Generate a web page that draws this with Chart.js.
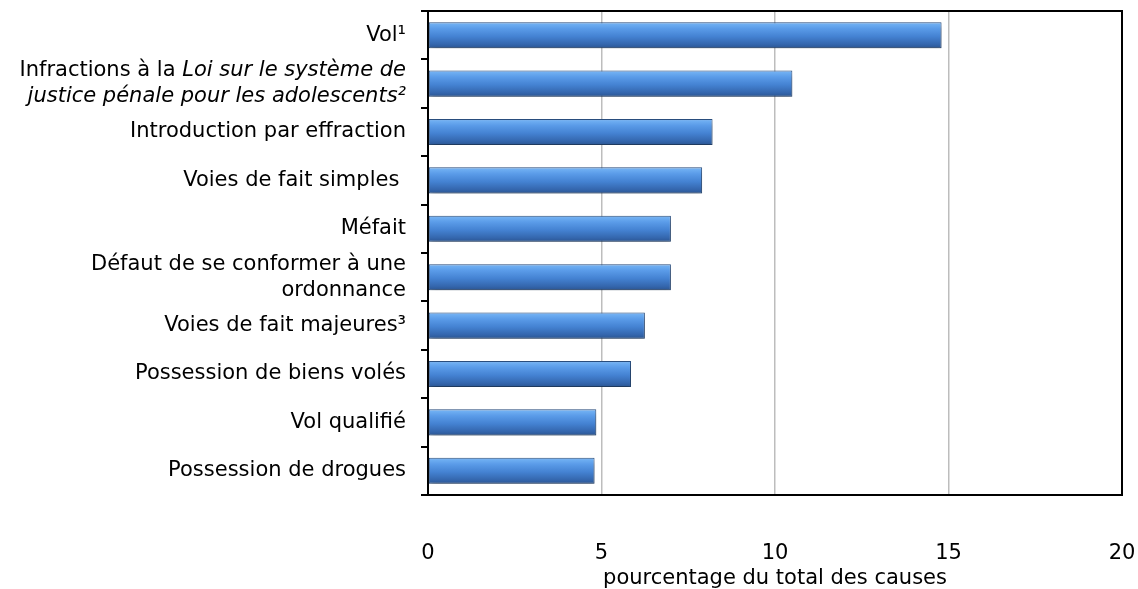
<!DOCTYPE html>
<html>
<head>
<meta charset="utf-8">
<script src="https://cdn.jsdelivr.net/npm/chart.js@4.4.1/dist/chart.umd.min.js"></script>
<style>
  html, body { margin: 0; padding: 0; background: #fff; overflow: hidden; }
</style>
</head>
<body>
<canvas id="chart" width="1138" height="589"></canvas>
<script>
// categories, top to bottom. '*' toggles italics (it carries over to the next line)
const categories = [
  'Vol¹',
  ['Infractions à la *Loi sur le système de', 'justice pénale pour les adolescents²*'],
  'Introduction par effraction',
  'Voies de fait simples ',
  'Méfait',
  ['Défaut de se conformer à une', 'ordonnance'],
  'Voies de fait majeures³',
  'Possession de biens volés',
  'Vol qualifié',
  'Possession de drogues'
];
const values = [14.8, 10.5, 8.2, 7.9, 7.0, 7.0, 6.25, 5.85, 4.85, 4.8];
const xTicks = [0, 5, 10, 15, 20];
const xTitle = 'pourcentage du total des causes';

const FONT = '"DejaVu Sans", Verdana, sans-serif';
const BAR_PCT = 0.54;

// plain labels (no markers) for the data / tooltips
const plainLabels = categories.map(c => Array.isArray(c) ? c.map(s => s.replace(/\*/g, '')) : c.replace(/\*/g, ''));

// bar fill: vertical gradient, light band near the top, dark bottom
function barFill(ctx) {
  const chart = ctx.chart;
  const y = chart.scales.y;
  if (!chart.chartArea || !y) return '#4584d3';
  const c = y.getPixelForValue(ctx.dataIndex);
  const half = (y.height / categories.length) * BAR_PCT / 2;
  const g = chart.ctx.createLinearGradient(0, c - half, 0, c + half);
  g.addColorStop(0, '#8fb8e6');
  g.addColorStop(0.08, '#6eaef2');
  g.addColorStop(0.25, '#5a9be8');
  g.addColorStop(0.55, '#4482d2');
  g.addColorStop(0.85, '#3466ad');
  g.addColorStop(1, '#2b5591');
  return g;
}

// soft shadow under the bars
const shadowPlugin = {
  id: 'barShadow',
  beforeDatasetsDraw(chart) {
    const ctx = chart.ctx;
    ctx.save();
    ctx.shadowColor = 'rgba(0,0,0,0.3)';
    ctx.shadowBlur = 6;
    ctx.shadowOffsetX = 1;
    ctx.shadowOffsetY = 4;
  },
  afterDatasetsDraw(chart) {
    chart.ctx.restore();
  }
};

// top and right frame lines
const framePlugin = {
  id: 'frame',
  afterDraw(chart) {
    const { ctx, chartArea: a } = chart;
    ctx.save();
    ctx.strokeStyle = '#000';
    ctx.lineWidth = 2;
    ctx.beginPath();
    ctx.moveTo(a.left - 6, a.top);
    ctx.lineTo(a.right, a.top);
    ctx.lineTo(a.right, a.bottom + 1);
    ctx.stroke();
    ctx.restore();
  }
};

// category labels with mixed roman / italic runs
const labelPlugin = {
  id: 'mixedLabels',
  afterDraw(chart) {
    const ctx = chart.ctx;
    const y = chart.scales.y;
    const xRight = y.right - 22;
    const lineH = 26;
    ctx.save();
    ctx.fillStyle = '#000';
    ctx.textBaseline = 'middle';
    ctx.textAlign = 'left';
    categories.forEach((cat, i) => {
      const lines = Array.isArray(cat) ? cat : [cat];
      const cy = y.getPixelForValue(i);
      let italic = false;
      lines.forEach((line, k) => {
        const parts = line.split('*');
        const runs = parts.map((txt, j) => {
          if (j > 0) italic = !italic;
          return { txt, italic };
        });
        let total = 0;
        runs.forEach(r => {
          ctx.font = (r.italic ? 'italic ' : '') + '21px ' + FONT;
          r.w = ctx.measureText(r.txt).width;
          total += r.w;
        });
        let x = xRight - total;
        const ly = cy + (k - (lines.length - 1) / 2) * lineH;
        runs.forEach(r => {
          ctx.font = (r.italic ? 'italic ' : '') + '21px ' + FONT;
          ctx.fillText(r.txt, x, ly);
          x += r.w;
        });
      });
    });
    ctx.restore();
  }
};

new Chart(document.getElementById('chart'), {
  type: 'bar',
  data: {
    labels: plainLabels,
    datasets: [{
      data: values,
      backgroundColor: barFill,
      borderColor: '#2a4f80',
      borderWidth: 1,
      borderSkipped: false,
      barPercentage: BAR_PCT,
      categoryPercentage: 1
    }]
  },
  options: {
    indexAxis: 'y',
    responsive: false,
    animation: false,
    layout: { padding: { top: 11, right: 16, left: 0, bottom: 0 } },
    plugins: {
      legend: { display: false },
      tooltip: { enabled: false }
    },
    scales: {
      y: {
        afterFit(scale) { scale.width = 428; },
        ticks: { display: false },
        grid: {
          offset: true,
          drawOnChartArea: false,
          drawTicks: true,
          tickLength: 7,
          color: '#000',
          lineWidth: 2
        },
        border: { color: '#000', width: 2 }
      },
      x: {
        min: 0,
        max: 20,
        afterBuildTicks(scale) { scale.ticks = xTicks.map(v => ({ value: v })); },
        afterFit(scale) {
          scale.height = 94;
          scale.paddingLeft = 0;
          scale.paddingRight = 0;
        },
        ticks: {
          color: '#000',
          padding: 46,
          maxRotation: 0,
          font: { family: FONT, size: 21, lineHeight: 1.2 }
        },
        grid: {
          drawTicks: false,
          color: ctx => (ctx.tick && (ctx.tick.value === 0 || ctx.tick.value === 20)) ? 'rgba(0,0,0,0)' : '#bdbdbd',
          lineWidth: 1.5
        },
        border: { color: '#000', width: 2 },
        title: {
          display: true,
          text: xTitle,
          color: '#000',
          padding: { top: 3, bottom: 0 },
          font: { family: FONT, size: 21, lineHeight: 1.0 }
        }
      }
    }
  },
  plugins: [shadowPlugin, labelPlugin, framePlugin]
});
</script>
</body>
</html>
